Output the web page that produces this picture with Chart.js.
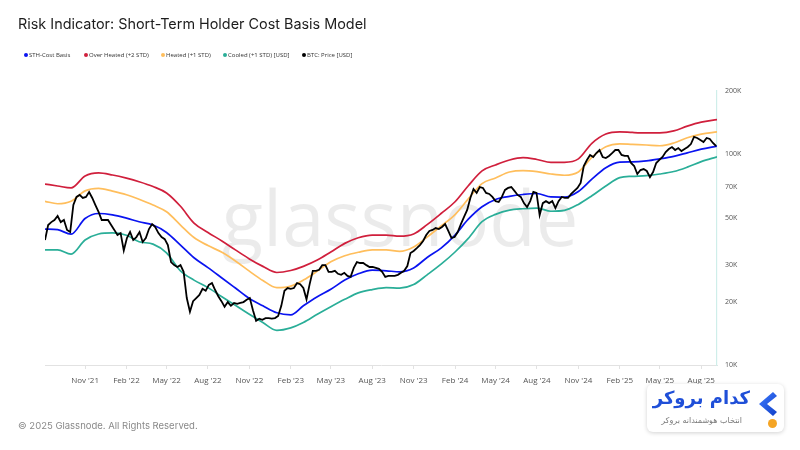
<!DOCTYPE html>
<html>
<head>
<meta charset="utf-8">
<script src="https://cdn.jsdelivr.net/npm/chart.js@4.4.1/dist/chart.umd.min.js"></script>
<style>
  body { margin: 0; width: 800px; height: 450px; background: #fff; position: relative; overflow: hidden; font-family: "Inter", "Noto Sans", sans-serif; }
  #chart { position: absolute; left: 0; top: 0; }
  #title { position: absolute; left: 18px; top: 15px; font-size: 14.4px; line-height: 17px; color: #1d1d1d; }
  .lg { position: absolute; top: 52px; font-family: "Open Sans", sans-serif; font-size: 6px; line-height: 6px; color: #333; white-space: nowrap; }
  .lg i { position: absolute; left: -5px; top: 1px; width: 4px; height: 4px; border-radius: 50%; }
  #copy { position: absolute; left: 18px; top: 420px; font-size: 9.5px; color: #8a8a8a; }
  #brand { position: absolute; left: 647px; top: 384px; width: 137px; height: 48px; background: #fff; border-radius: 6px; box-shadow: 0 1px 4px rgba(0,0,0,0.18); }
  #brand .name { position: absolute; right: 34px; top: 3px; direction: rtl; font-family: "DejaVu Sans", sans-serif; font-weight: bold; font-size: 18px; color: #1f4fd8; white-space: nowrap; }
  #brand .sub { position: absolute; right: 42px; top: 32px; direction: rtl; font-family: "DejaVu Sans", sans-serif; font-size: 8px; color: #7a7a7a; white-space: nowrap; }
  #brand svg { position: absolute; left: 108px; top: 7px; }
  #brand .dot { position: absolute; left: 121px; top: 35px; width: 9px; height: 9px; border-radius: 50%; background: #f5a524; }
</style>
</head>
<body>
<canvas id="chart" width="800" height="450"></canvas>
<div id="title">Risk Indicator: Short-Term Holder Cost Basis Model</div>
<div class="lg" style="left:29px"><i style="background:#0a14f0"></i>STH-Cost Basis</div>
<div class="lg" style="left:89px"><i style="background:#d01f3c"></i>Over Heated (+2 STD)</div>
<div class="lg" style="left:166px"><i style="background:#ffbe5c"></i>Heated (+1 STD)</div>
<div class="lg" style="left:228px"><i style="background:#2aae98"></i>Cooled (+1 STD) [USD]</div>
<div class="lg" style="left:307px"><i style="background:#000"></i>BTC: Price [USD]</div>
<div id="copy">© 2025 Glassnode. All Rights Reserved.</div>
<div id="brand">
  <div class="name">کدام بروکر</div>
  <div class="sub">انتخاب هوشمندانه بروکر</div>
  <svg width="24" height="26" viewBox="0 0 24 26">
    <defs><linearGradient id="gb" x1="0" y1="0" x2="1" y2="1"><stop offset="0" stop-color="#3d7bff"/><stop offset="1" stop-color="#1240c8"/></linearGradient></defs>
    <path d="M18 1 L4 13 L18 25 L22 21 L12 13 L22 5 Z" fill="url(#gb)"/>
  </svg>
  <div class="dot"></div>
</div>
<script>
// monthly band readings (values in thousands of USD)
const bandDates = [
  "2021-08-04", "2021-09-01", "2021-10-01", "2021-11-01", "2021-12-01",
  "2022-01-01", "2022-02-01", "2022-03-01", "2022-04-01", "2022-05-01",
  "2022-06-01", "2022-07-01", "2022-08-01", "2022-09-01", "2022-10-01",
  "2022-11-01", "2022-12-01", "2023-01-01", "2023-02-01", "2023-03-01",
  "2023-04-01", "2023-05-01", "2023-06-01", "2023-07-01", "2023-08-01",
  "2023-09-01", "2023-10-01", "2023-11-01", "2023-12-01", "2024-01-01",
  "2024-02-01", "2024-03-01", "2024-04-01", "2024-05-01", "2024-06-01",
  "2024-07-01", "2024-08-01", "2024-09-01", "2024-10-01", "2024-11-01",
  "2024-12-01", "2025-01-01", "2025-02-01", "2025-03-01", "2025-04-01",
  "2025-05-01", "2025-06-01", "2025-07-01", "2025-08-01", "2025-09-05"
];
const sthCostBasis = [
  44.2, 43.9, 41.8, 49.6, 52.4, 51.6, 49.8, 47.9, 46.2, 42.6,
  37.1, 32.3, 29.0, 25.9, 23.2, 20.7, 19.1, 17.7, 17.3, 19.1,
  21.1, 22.9, 25.3, 27.1, 28.2, 28.0, 27.7, 28.9, 32.4, 35.9,
  41.4, 49.1, 56.4, 61.1, 63.2, 64.5, 65.2, 62.8, 62.7, 66.7,
  76.3, 86.5, 91.9, 92.1, 93.1, 95.2, 97.9, 101.7, 105.9, 109.5
];
const overHeated = [
  72.3, 70.8, 69.3, 79.0, 81.7, 79.8, 77.1, 74.2, 70.4, 65.6,
  56.7, 47.2, 42.6, 38.8, 35.2, 31.9, 29.4, 27.5, 28.1, 29.4,
  31.5, 34.4, 37.8, 40.2, 41.4, 41.4, 40.9, 41.9, 46.4, 52.4,
  59.6, 70.8, 83.5, 89.1, 94.1, 96.6, 94.6, 91.7, 91.7, 95.2,
  112.9, 125.0, 127.9, 127.1, 126.6, 126.6, 129.3, 136.3, 142.3, 146.4
];
const heated = [
  59.9, 58.3, 59.9, 67.1, 69.0, 66.9, 64.3, 61.2, 57.5, 53.4,
  46.2, 40.3, 36.9, 34.3, 31.2, 27.9, 25.2, 23.3, 23.7, 25.3,
  27.9, 30.9, 33.0, 34.3, 35.2, 35.2, 34.6, 36.3, 40.5, 45.7,
  51.8, 61.3, 72.7, 77.3, 82.5, 83.8, 82.8, 80.7, 79.6, 82.5,
  96.8, 108.6, 112.2, 111.5, 110.8, 109.9, 113.3, 120.0, 124.7, 127.9
];
const cooled = [
  35.2, 35.2, 33.6, 39.2, 41.9, 42.4, 41.3, 38.5, 37.5, 34.1,
  28.0, 25.3, 23.3, 21.1, 19.2, 17.4, 15.9, 14.6, 15.0, 15.9,
  17.4, 18.9, 20.5, 22.0, 22.8, 23.3, 23.2, 24.1, 26.8, 30.1,
  34.4, 39.8, 47.9, 51.9, 54.4, 55.2, 55.6, 53.7, 54.2, 57.9,
  63.6, 70.8, 77.6, 78.7, 79.3, 80.7, 82.9, 87.0, 92.4, 97.4
];

// weekly BTC price readings (thousands of USD), starting 2021-08-04
const priceStart = "2021-08-04";
const priceStepDays = 7;
const btcPrice = [
  39.2, 46.2, 47.7, 48.8, 51.0, 47.7, 48.8, 43.8, 42.8, 57.5,
  62.8, 64.2, 62.1, 62.8, 66.3, 62.1, 57.5, 53.3, 48.8, 48.8,
  48.8, 46.2, 43.8, 41.4, 42.3, 35.0, 40.1, 42.8, 39.2, 40.5,
  42.8, 38.4, 40.1, 44.2, 46.7, 45.2, 42.3, 40.5, 39.6, 37.1,
  30.8, 29.8, 29.2, 29.8, 27.7, 20.8, 17.9, 20.1, 20.8, 21.5,
  23.0, 22.5, 24.0, 24.5, 22.7, 21.2, 20.1, 18.9, 19.9, 19.1,
  19.7, 19.5, 19.7, 19.9, 20.4, 20.8, 18.2, 16.2, 16.6, 16.4,
  16.7, 16.7, 16.6, 16.7, 17.1, 19.1, 22.5, 23.2, 23.0, 23.2,
  24.5, 24.2, 23.2, 20.5, 24.2, 28.0, 28.0, 28.3, 29.8, 29.8,
  27.7, 27.7, 28.0, 27.1, 26.8, 27.4, 26.5, 26.2, 28.9, 30.8,
  30.5, 30.5, 29.8, 29.2, 29.2, 28.9, 28.6, 27.7, 26.2, 26.5,
  26.5, 26.5, 26.8, 27.4, 28.0, 29.5, 34.0, 34.8, 35.9, 37.1,
  38.8, 41.4, 43.3, 43.8, 44.7, 44.2, 45.2, 46.7, 43.3, 40.1,
  40.5, 42.8, 46.7, 50.5, 54.5, 62.1, 68.5, 65.6, 70.0, 69.3,
  65.6, 64.9, 62.8, 60.0, 59.4, 62.8, 67.8, 69.3, 70.0, 67.1,
  64.2, 62.8, 58.7, 56.2, 60.0, 66.3, 65.6, 51.5, 58.7, 60.0,
  58.7, 60.0, 55.6, 60.0, 62.8, 62.1, 62.1, 64.9, 67.1, 69.3,
  73.2, 88.1, 94.1, 99.4, 97.2, 101.5, 104.9, 97.2, 96.1, 98.3,
  101.5, 104.9, 104.9, 99.4, 98.3, 98.3, 91.0, 88.1, 80.7, 84.3,
  85.2, 83.4, 78.0, 82.5, 91.0, 94.1, 97.2, 102.6, 106.0, 108.4,
  104.9, 107.2, 103.7, 106.0, 108.4, 112.0, 121.0, 119.7, 117.1, 114.5,
  119.7, 118.4, 113.3, 109.6
];

const tickDates = [
  "2021-11-01", "2022-02-01", "2022-05-01", "2022-08-01", "2022-11-01", "2023-02-01",
  "2023-05-01", "2023-08-01", "2023-11-01", "2024-02-01", "2024-05-01", "2024-08-01",
  "2024-11-01", "2025-02-01", "2025-05-01", "2025-08-01"
];
const tickLabels = [
  "Nov '21", "Feb '22", "May '22", "Aug '22", "Nov '22", "Feb '23",
  "May '23", "Aug '23", "Nov '23", "Feb '24", "May '24", "Aug '24",
  "Nov '24", "Feb '25", "May '25", "Aug '25"
];
const yTicks = [10000, 20000, 30000, 50000, 70000, 100000, 200000];

const ORIGIN = Date.parse("2021-08-01");
const toDay = s => (Date.parse(s) - ORIGIN) / 86400000;

const bandLine = (label, values, color) => ({
  label: label,
  data: bandDates.map((d, i) => ({ x: toDay(d), y: values[i] * 1000 })),
  borderColor: color,
  borderWidth: 1.7,
  pointRadius: 0,
  cubicInterpolationMode: "monotone",
  fill: false
});

const p0 = toDay(priceStart);
const priceData = btcPrice.map((v, i) => ({ x: p0 + i * priceStepDays, y: v * 1000 }));

const watermark = {
  id: "watermark",
  beforeDatasetsDraw(chart) {
    const c = chart.ctx;
    c.save();
    c.font = '400 76px "Open Sans"';
    c.fillStyle = "rgba(0,0,0,0.08)";
    c.textAlign = "center";
    c.fillText("glassnode", 400, 246);
    c.restore();
  }
};

new Chart(document.getElementById("chart").getContext("2d"), {
  type: "line",
  data: {
    datasets: [
      { label: "BTC: Price [USD]", data: priceData, borderColor: "#000", borderWidth: 1.8, pointRadius: 0, tension: 0, fill: false },
      bandLine("STH-Cost Basis", sthCostBasis, "#0a14f0"),
      bandLine("Over Heated (+2 STD)", overHeated, "#d01f3c"),
      bandLine("Heated (+1 STD)", heated, "#ffbe5c"),
      bandLine("Cooled (+1 STD) [USD]", cooled, "#2aae98")
    ]
  },
  options: {
    responsive: false,
    animation: false,
    layout: { padding: { left: 45, top: 91, right: 0, bottom: 0 } },
    plugins: { legend: { display: false }, tooltip: { enabled: false } },
    scales: {
      x: {
        type: "linear",
        min: toDay("2021-08-04"),
        max: toDay("2025-09-05"),
        afterBuildTicks: s => { s.ticks = tickDates.map(d => ({ value: toDay(d) })); },
        afterFit: s => { s.height = 85; },
        ticks: {
          autoSkip: false, maxRotation: 0, padding: 7, color: "#555",
          font: { family: "Open Sans", size: 8 },
          callback: (v, i) => tickLabels[i]
        },
        grid: { drawOnChartArea: false, drawTicks: true, tickLength: 4, color: "#e2e2e2" },
        border: { color: "#e2e2e2" }
      },
      y: {
        type: "logarithmic",
        position: "right",
        min: 10000,
        max: 200000,
        afterBuildTicks: s => { s.ticks = yTicks.map(v => ({ value: v })); },
        afterFit: s => { s.width = 83; },
        ticks: {
          autoSkip: false, padding: 8, color: "#555",
          font: { family: "Open Sans", size: 7 },
          callback: v => (v / 1000) + "K"
        },
        grid: { drawOnChartArea: false, drawTicks: false },
        border: { color: "#cfeeea", width: 1.2 }
      }
    }
  },
  plugins: [watermark]
});
</script>
</body>
</html>
